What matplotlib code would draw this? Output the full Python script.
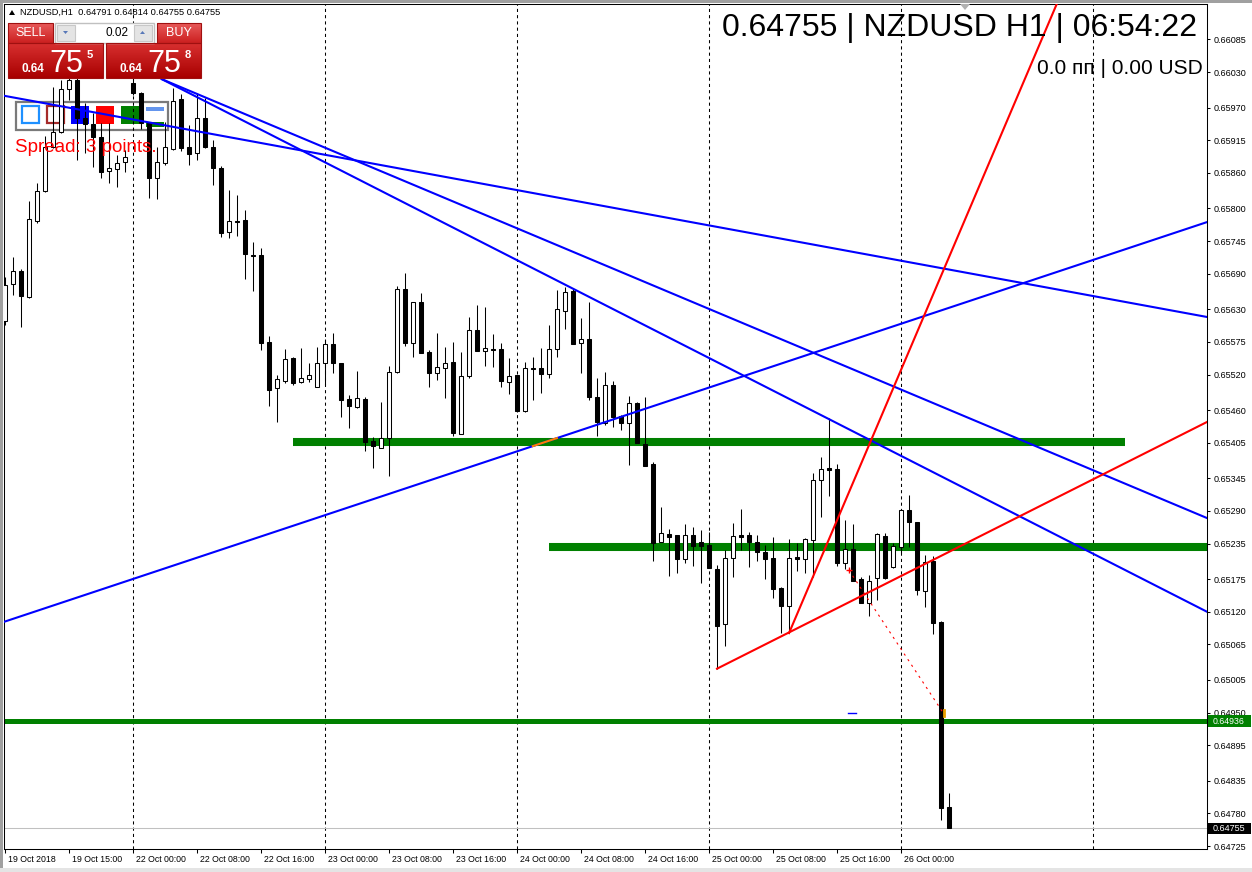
import numpy as np
import matplotlib
matplotlib.use("Agg")
import matplotlib.pyplot as plt
from matplotlib.patches import Rectangle, Polygon
from matplotlib.colors import to_rgb
import matplotlib.transforms as mtransforms

plt.rcParams['font.family'] = ['Liberation Sans', 'DejaVu Sans']

# NZDUSD H1, barras desde 19 Oct 08:00 hasta 26 Oct 06:00
opens = [0.65610, 0.65673, 0.65695, 0.65651, 0.65779, 0.65829, 0.65904, 0.65929, 0.66001, 0.66017,
         0.65952, 0.65942, 0.65920, 0.65863, 0.65867, 0.65878, 0.66012, 0.65995, 0.65946, 0.65851,
         0.65877, 0.65900, 0.65985, 0.65904, 0.65893, 0.65952, 0.65904, 0.65868, 0.65760, 0.65779,
         0.65781, 0.65722, 0.65722, 0.65575, 0.65497, 0.65509, 0.65548, 0.65507, 0.65512, 0.65499,
         0.65539, 0.65571, 0.65539, 0.65479, 0.65465, 0.65479, 0.65408, 0.65396, 0.65413, 0.65524,
         0.65664, 0.65573, 0.65642, 0.65558, 0.65523, 0.65531, 0.65541, 0.65420, 0.65518, 0.65595,
         0.65560, 0.65563, 0.65563, 0.65507, 0.65519, 0.65458, 0.65531, 0.65531, 0.65521, 0.65563,
         0.65627, 0.65661, 0.65573, 0.65580, 0.65482, 0.65438, 0.65502, 0.65450, 0.65438, 0.65472,
         0.65403, 0.65369, 0.65238, 0.65251, 0.65249, 0.65209, 0.65249, 0.65238, 0.65233, 0.65192,
         0.65099, 0.65211, 0.65249, 0.65249, 0.65238, 0.65221, 0.65211, 0.65160, 0.65130, 0.65212,
         0.65209, 0.65241, 0.65342, 0.65362, 0.65361, 0.65202, 0.65226, 0.65175, 0.65135, 0.65177,
         0.65248, 0.65195, 0.65229, 0.65292, 0.65271, 0.65155, 0.65206, 0.65103, 0.64791]
highs = [0.65684, 0.65718, 0.65698, 0.65813, 0.65843, 0.65922, 0.66005, 0.66017, 0.66030, 0.66023,
         0.65978, 0.65961, 0.65944, 0.65944, 0.65890, 0.65899, 0.66018, 0.65997, 0.65946, 0.65904,
         0.65946, 0.66003, 0.65993, 0.65941, 0.65995, 0.65986, 0.65915, 0.65872, 0.65831, 0.65823,
         0.65797, 0.65743, 0.65733, 0.65585, 0.65519, 0.65563, 0.65549, 0.65565, 0.65539, 0.65566,
         0.65580, 0.65590, 0.65540, 0.65485, 0.65526, 0.65482, 0.65415, 0.65474, 0.65534, 0.65669,
         0.65691, 0.65643, 0.65657, 0.65561, 0.65590, 0.65566, 0.65575, 0.65558, 0.65617, 0.65637,
         0.65634, 0.65588, 0.65573, 0.65548, 0.65520, 0.65541, 0.65550, 0.65565, 0.65603, 0.65663,
         0.65668, 0.65666, 0.65615, 0.65642, 0.65514, 0.65524, 0.65509, 0.65451, 0.65484, 0.65473,
         0.65482, 0.65372, 0.65297, 0.65260, 0.65250, 0.65268, 0.65263, 0.65258, 0.65254, 0.65199,
         0.65224, 0.65270, 0.65293, 0.65254, 0.65249, 0.65233, 0.65246, 0.65161, 0.65243, 0.65236,
         0.65244, 0.65354, 0.65381, 0.65447, 0.65369, 0.65275, 0.65268, 0.65179, 0.65182, 0.65252,
         0.65253, 0.65236, 0.65293, 0.65317, 0.65272, 0.65216, 0.65214, 0.65104, 0.64814]
lows = [0.65603, 0.65654, 0.65600, 0.65649, 0.65775, 0.65828, 0.65902, 0.65927, 0.65983, 0.65882,
        0.65893, 0.65870, 0.65851, 0.65843, 0.65836, 0.65861, 0.65991, 0.65934, 0.65818, 0.65816,
        0.65873, 0.65899, 0.65897, 0.65873, 0.65882, 0.65902, 0.65840, 0.65752, 0.65750, 0.65754,
        0.65681, 0.65661, 0.65561, 0.65467, 0.65440, 0.65506, 0.65502, 0.65506, 0.65507, 0.65499,
        0.65502, 0.65523, 0.65448, 0.65430, 0.65464, 0.65391, 0.65362, 0.65396, 0.65349, 0.65523,
        0.65568, 0.65550, 0.65556, 0.65499, 0.65511, 0.65480, 0.65416, 0.65420, 0.65514, 0.65560,
        0.65534, 0.65533, 0.65499, 0.65487, 0.65457, 0.65457, 0.65477, 0.65489, 0.65514, 0.65550,
        0.65597, 0.65571, 0.65523, 0.65477, 0.65416, 0.65435, 0.65431, 0.65426, 0.65367, 0.65404,
        0.65366, 0.65206, 0.65237, 0.65180, 0.65185, 0.65202, 0.65197, 0.65168, 0.65194, 0.65024,
        0.65062, 0.65179, 0.65224, 0.65195, 0.65206, 0.65175, 0.65143, 0.65084, 0.65084, 0.65189,
        0.65185, 0.65179, 0.65280, 0.65315, 0.65197, 0.65192, 0.65172, 0.65135, 0.65113, 0.65140,
        0.65176, 0.65194, 0.65219, 0.65229, 0.65148, 0.65128, 0.65083, 0.64769, 0.64755]
closes = [0.65671, 0.65695, 0.65652, 0.65782, 0.65829, 0.65904, 0.65929, 0.66001, 0.66017, 0.65952,
          0.65942, 0.65920, 0.65861, 0.65868, 0.65877, 0.65887, 0.65995, 0.65944, 0.65851, 0.65878,
          0.65904, 0.65981, 0.65902, 0.65892, 0.65952, 0.65904, 0.65868, 0.65759, 0.65779, 0.65777,
          0.65723, 0.65720, 0.65573, 0.65494, 0.65512, 0.65546, 0.65506, 0.65514, 0.65519, 0.65539,
          0.65571, 0.65539, 0.65477, 0.65467, 0.65480, 0.65406, 0.65399, 0.65413, 0.65524, 0.65664,
          0.65573, 0.65642, 0.65556, 0.65523, 0.65533, 0.65539, 0.65421, 0.65518, 0.65595, 0.65560,
          0.65565, 0.65562, 0.65509, 0.65518, 0.65458, 0.65531, 0.65530, 0.65521, 0.65563, 0.65630,
          0.65659, 0.65571, 0.65580, 0.65482, 0.65440, 0.65502, 0.65448, 0.65438, 0.65472, 0.65405,
          0.65366, 0.65236, 0.65253, 0.65246, 0.65209, 0.65249, 0.65231, 0.65231, 0.65194, 0.65096,
          0.65211, 0.65248, 0.65246, 0.65238, 0.65221, 0.65209, 0.65158, 0.65130, 0.65211, 0.65209,
          0.65243, 0.65342, 0.65361, 0.65359, 0.65202, 0.65226, 0.65172, 0.65135, 0.65172, 0.65251,
          0.65177, 0.65231, 0.65292, 0.65271, 0.65157, 0.65204, 0.65101, 0.64789, 0.64755]
ask = 0.64758

x_labels = ["19 Oct 2018", "19 Oct 15:00", "22 Oct 00:00", "22 Oct 08:00", "22 Oct 16:00",
            "23 Oct 00:00", "23 Oct 08:00", "23 Oct 16:00", "24 Oct 00:00", "24 Oct 08:00",
            "24 Oct 16:00", "25 Oct 00:00", "25 Oct 08:00", "25 Oct 16:00", "26 Oct 00:00"]
x_label_idx = [0, 8, 16, 24, 32, 40, 48, 56, 64, 72, 80, 88, 96, 104, 112]
day_sep = [16, 40, 64, 88, 112, 136]

y_ticks = [0.66085, 0.66030, 0.65970, 0.65915, 0.65860, 0.65800, 0.65745, 0.65690, 0.65630,
           0.65575, 0.65520, 0.65460, 0.65405, 0.65345, 0.65290, 0.65235, 0.65175, 0.65120,
           0.65065, 0.65005, 0.64950, 0.64895, 0.64835, 0.64780, 0.64725]

# niveles horizontales verdes (precio, barra inicio, barra fin)
green_price = [0.65406, 0.65229, 0.64936]
green_start = [36, 68, -0.125]
green_end = [140, 151, 151]

# lineas de tendencia (barra, precio) -> (barra, precio)
blue_x0 = [-0.125, 19.6, 19.6, -0.125]
blue_p0 = [0.65990, 0.66018, 0.66018, 0.65103]
blue_x1 = [150.25, 150.25, 150.25, 150.25]
blue_p1 = [0.65617, 0.65278, 0.65120, 0.65777]

red_x0 = [89, 98]
red_p0 = [0.65024, 0.65084]
red_x1 = [150.25, 111]
red_p1 = [0.65440, 0.65496]

# orden: linea punteada
order_x = [105.5, 117.25]
order_p = [0.65190, 0.64950]

W, H = 1252, 872
fig = plt.figure(figsize=(W / 100, H / 100), dpi=100)
fig.patch.set_facecolor('white')

x_min, x_max = -0.125, 150.25
p_min, p_max = 0.64720, 0.661447
px_price = (p_max - p_min) / 845.0


def pixel_axes(z):
    a = fig.add_axes([0, 0, 1, 1], zorder=z)
    a.set_xlim(0, W)
    a.set_ylim(H, 0)
    a.axis('off')
    a.patch.set_alpha(0)
    return a


back = pixel_axes(0)
ax = fig.add_axes([4 / W, (H - 849) / H, 1203 / W, 845 / H], zorder=1)
ax.patch.set_facecolor('none')
front = pixel_axes(5)

# barra de objetos (detras de las velas)
back.add_patch(Rectangle((16, 102), 152, 28, facecolor='white', edgecolor='#7a7a7a', lw=1.6))
back.add_patch(Rectangle((21.5, 106.5), 17, 17, facecolor='none', edgecolor='#1e90ff', lw=1.6))
back.add_patch(Rectangle((46.5, 106.5), 17, 17, facecolor='none', edgecolor='#a52a2a', lw=1.6))
back.add_patch(Rectangle((71, 106), 18, 18, facecolor='#0000ff', lw=0))
back.add_patch(Rectangle((96, 106), 18, 18, facecolor='#ff0000', lw=0))
back.add_patch(Rectangle((121, 106), 18, 18, facecolor='#008000', lw=0))
back.add_patch(Rectangle((146, 107), 18, 4, facecolor='#6495ed', lw=0))
back.add_patch(Rectangle((146, 122), 18, 5, facecolor='#008000', lw=0))

# separadores de dias
for d in day_sep:
    ax.axvline(d, color='black', lw=0.75, ls=(0, (3, 3)), zorder=0.5)

# niveles verdes
g_lw = [5.8, 5.8, 3.6]
for p, s, e, lw in zip(green_price, green_start, green_end, g_lw):
    ax.plot([s, e], [p, p], color='#008000', lw=lw, solid_capstyle='butt', zorder=1)

# linea bid
ax.axhline(closes[-1], color='#c0c0c0', lw=0.75, zorder=0.6)

# velas
idx = np.arange(len(opens))
o = np.array(opens); c = np.array(closes); h = np.array(highs); l = np.array(lows)
ax.vlines(idx, l, h, color='black', lw=0.75, zorder=2)
bull = c >= o
ax.bar(idx[bull], (c - o)[bull], bottom=o[bull], width=0.5, facecolor='white',
       edgecolor='black', lw=0.75, zorder=3)
ax.bar(idx[~bull], (o - c)[~bull], bottom=c[~bull], width=0.5, facecolor='black',
       edgecolor='black', lw=0.75, zorder=3)


def ray(x0, p0, x1, p1, xe):
    k = (p1 - p0) / (x1 - x0)
    return [x0, xe], [p0, p0 + k * (xe - x0)]


for x0, p0, x1, p1 in zip(blue_x0, blue_p0, blue_x1, blue_p1):
    ax.plot([x0, x1], [p0, p1], color='#0000ff', lw=1.5, zorder=4)

# tramo naranja donde la linea ascendente cruza el nivel verde superior
k = (blue_p1[3] - blue_p0[3]) / (blue_x1[3] - blue_x0[3])
band = 4 * px_price
xa = blue_x0[3] + (green_price[0] - band - blue_p0[3]) / k
xb = blue_x0[3] + (green_price[0] + band - blue_p0[3]) / k
ax.plot([xa, xb], [blue_p0[3] + k * (xa - blue_x0[3]), blue_p0[3] + k * (xb - blue_x0[3])],
        color='#ff8000', lw=1.5, zorder=4.5)

for x0, p0, x1, p1 in zip(red_x0, red_p0, red_x1, red_p1):
    xs, ps = ray(x0, p0, x1, p1, 150.25)
    ax.plot(xs, ps, color='#ff0000', lw=1.5, zorder=4)

ax.plot(order_x, order_p, color='#ff0000', lw=0.8, ls=(0, (2, 4)), zorder=4)
ax.plot([order_x[0]], [order_p[0]], marker='+', color='#ff0000', ms=4, mew=1, zorder=4)
ax.plot([order_x[0] - 0.1, order_x[0] + 0.9], [order_p[1], order_p[1]], color='#0000ff', lw=1, zorder=4)
ax.plot([order_x[1] + 0.1, order_x[1] + 0.1], [order_p[1] - 3 * px_price, order_p[1] + 3 * px_price],
        color='#e8a000', lw=2, zorder=4)

ax.set_xlim(x_min, x_max)
ax.set_ylim(p_min, p_max)
for s in ax.spines.values():
    s.set_color('black')
    s.set_linewidth(0.75)

ax.yaxis.tick_right()
ax.set_yticks(y_ticks)
ax.set_yticklabels([f"{t:.5f}" for t in y_ticks], fontsize=6.5)
ax.tick_params(axis='y', length=2.5, width=0.75, pad=2)
ax.set_xticks(x_label_idx)
ax.set_xticklabels(x_labels, fontsize=6.3, ha='left')
ax.tick_params(axis='x', length=3, width=0.75, pad=1.5)
offset = mtransforms.ScaledTranslation(0.03, 0, fig.dpi_scale_trans)
for lbl in ax.get_xticklabels():
    lbl.set_transform(lbl.get_transform() + offset)

# etiquetas resaltadas del eje de precios
front.add_patch(Rectangle((1208, 715), 43, 12, facecolor='#008000', lw=0))
front.text(1213, 721.5, f"{green_price[2]:.5f}", color='white', fontsize=6.3, va='center', ha='left')
front.add_patch(Rectangle((1208, 823), 43, 11, facecolor='black', lw=0))
front.text(1213, 828.5, f"{closes[-1]:.5f}", color='white', fontsize=6.5, va='center', ha='left')

# bordes de la ventana
front.add_patch(Rectangle((0, 0), W, 3, facecolor='#a0a0a0', lw=0))
front.add_patch(Rectangle((0, 0), 3, H, facecolor='#a0a0a0', lw=0))
front.add_patch(Rectangle((0, 868), W, 4, facecolor='#e4e4e4', lw=0))
front.add_patch(Polygon([[960, 4], [970, 4], [965, 10]], closed=True, facecolor='#b0b0b0', lw=0))

# encabezado
front.add_patch(Polygon([[9, 15], [15, 15], [12, 10]], closed=True, facecolor='black', lw=0))
front.text(20, 12.5, f"NZDUSD,H1  {opens[-1]:.5f} {highs[-1]:.5f} {lows[-1]:.5f} {closes[-1]:.5f}",
           fontsize=6.7, va='center', ha='left')

# panel de operaciones
def grad(x0, y0, x1, y1, ctop, cbot):
    t = np.linspace(0, 1, 64)[:, None, None]
    img = (1 - t) * np.array(to_rgb(ctop)) + t * np.array(to_rgb(cbot))
    img = np.repeat(img, 2, axis=1)
    front.imshow(img, extent=(x0, x1, y1, y0), origin='upper', aspect='auto', zorder=1,
                 interpolation='bilinear')
    front.add_patch(Rectangle((x0, y0), x1 - x0, y1 - y0, facecolor='none',
                              edgecolor='#a01010', lw=0.8, zorder=2))


grad(8, 23, 53, 43, '#e85a5a', '#cc2020')
grad(8, 43, 103, 78, '#d83030', '#a80000')
grad(157, 23, 201, 43, '#e85a5a', '#cc2020')
grad(106, 43, 201, 78, '#d83030', '#a80000')
front.add_patch(Rectangle((55, 23), 99, 20, facecolor='white', edgecolor='#c0c0c0', lw=1, zorder=1))
front.add_patch(Rectangle((57, 25), 18, 16, facecolor='#e4e4e4', edgecolor='#c8c8c8', lw=0.8, zorder=2))
front.add_patch(Rectangle((134, 25), 18, 16, facecolor='#e4e4e4', edgecolor='#c8c8c8', lw=0.8, zorder=2))
front.add_patch(Polygon([[63, 31], [68, 31], [65.5, 34]], closed=True, facecolor='#5878b8', lw=0, zorder=3))
front.add_patch(Polygon([[140, 34], [145, 34], [142.5, 31]], closed=True, facecolor='#5878b8', lw=0, zorder=3))
front.text(129, 33, "0.02", fontsize=8.5, ha='right', va='center', zorder=3)
front.text(30.5, 33.5, "SELL", fontsize=9, color='white', ha='center', va='center', zorder=3)
front.text(179, 33.5, "BUY", fontsize=9, color='white', ha='center', va='center', zorder=3)

for px0, price in [(22, closes[-1]), (120, ask)]:
    s = f"{price:.5f}"
    front.text(px0, 72, s[:4], fontsize=8.5, fontweight='bold', color='white', va='baseline', zorder=3)
    front.text(px0 + 27, 72, s[4:6], fontsize=22, color='white', va='baseline', zorder=3)
    front.text(px0 + 65, 58, s[6], fontsize=8, fontweight='bold', color='white', va='baseline', zorder=3)

spread = round((ask - closes[-1]) / 0.00001)
front.text(15, 147, f"Spread: {spread} points.", fontsize=13.5, color='#ff0000', va='center', ha='left')

front.text(1197, 28, f"{closes[-1]:.5f} | NZDUSD H1 | 06:54:22", fontsize=23, ha='right',
           va='center', color='black')
front.text(1203, 68, "0.0 пп | 0.00 USD", fontsize=15, ha='right', va='center', color='black')

front.set_xlim(0, W)
front.set_ylim(H, 0)

fig.savefig('out.png', dpi=100)
